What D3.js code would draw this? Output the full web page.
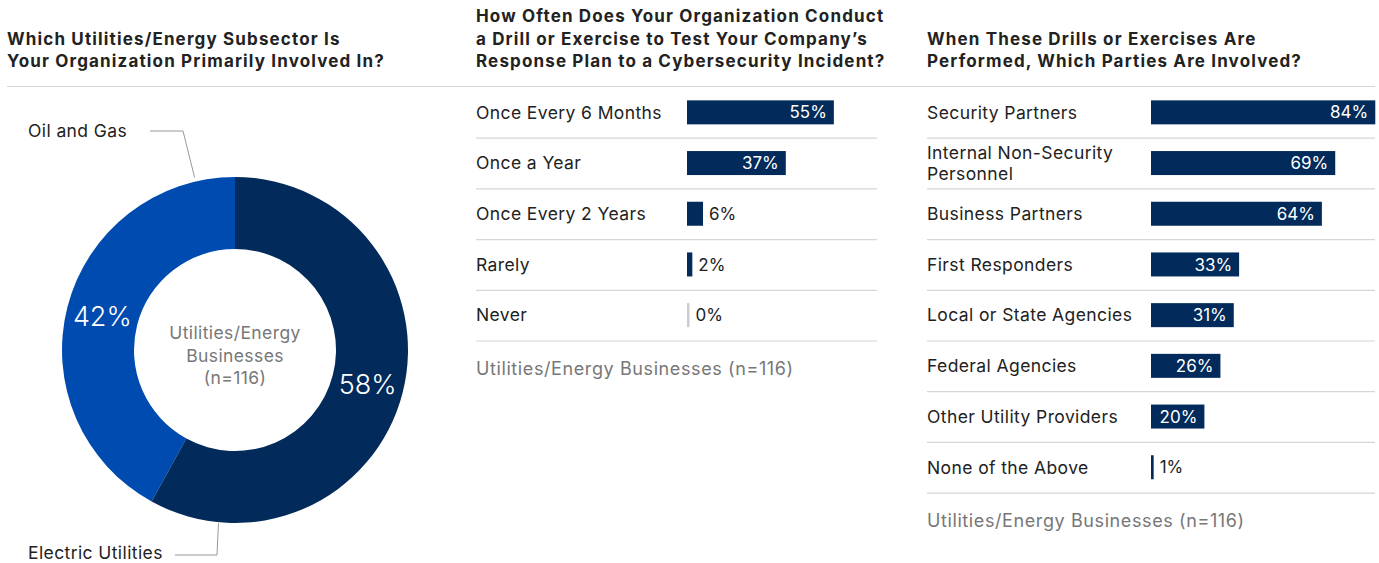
<!DOCTYPE html>
<html><head><meta charset="utf-8">
<script src="https://cdn.jsdelivr.net/npm/d3@7"></script>
<style>
body{margin:0;background:#fff;}
svg{display:block;font-family:Inter,"Liberation Sans",Arial,sans-serif;}
</style></head><body>
<svg id="c" width="1379" height="563"></svg>
<script>
// ---- data ----
const subsectorLabels = ["Oil and Gas", "Electric Utilities"];
const subsectorValues = [42, 58];
const frequencyCategories = ["Once Every 6 Months", "Once a Year", "Once Every 2 Years", "Rarely", "Never"];
const frequencyValues = [55, 37, 6, 2, 0];
const partiesCategories = ["Security Partners", "Internal Non-Security Personnel", "Business Partners", "First Responders", "Local or State Agencies", "Federal Agencies", "Other Utility Providers", "None of the Above"];
const partiesValues = [84, 69, 64, 33, 31, 26, 20, 1];
const titles = [
  ["Which Utilities/Energy Subsector Is", "Your Organization Primarily Involved In?"],
  ["How Often Does Your Organization Conduct", "a Drill or Exercise to Test Your Company\u2019s", "Response Plan to a Cybersecurity Incident?"],
  ["When These Drills or Exercises Are", "Performed, Which Parties Are Involved?"]
];
const centerLabel = ["Utilities/Energy", "Businesses", "(n=116)"];
const footnote = "Utilities/Energy Businesses (n=116)";

// ---- style ----
const DARK = "#022a5a", BLUE = "#004bb0", TXT = "#222", GREY = "#777", RULE = "#d6d6d6";
const FS = 17.5, LS = 0.4;
const svg = d3.select("#c");
const txt = (sel) => sel.attr("font-size", FS).attr("letter-spacing", LS);

// titles
const titleX = [7, 476, 927];
titles.forEach((lines, i) => {
  const n = lines.length;
  lines.forEach((t, j) => {
    svg.append("text").attr("x", titleX[i]).attr("y", 67 - (n - 1 - j) * 22.5)
      .attr("font-size", 17).attr("font-weight", 700).attr("letter-spacing", 1.15)
      .attr("fill", TXT).text(t);
  });
});
svg.append("line").attr("x1", 7).attr("x2", 1375).attr("y1", 86.5).attr("y2", 86.5)
  .attr("stroke", RULE).attr("stroke-width", 1.2);

// ---- donut ----
const cx = 235, cy = 350, rOuter = 173, rInner = 101;
const pie = d3.pie().sort(null).value(d => d)
  .startAngle(0).endAngle(-2 * Math.PI);
const arcs = pie(subsectorValues);
const arc = d3.arc().innerRadius(rInner).outerRadius(rOuter);
const g = svg.append("g").attr("transform", `translate(${cx},${cy})`);
const colors = [BLUE, DARK];
g.selectAll("path").data(arcs).join("path").attr("d", arc).attr("fill", (d, i) => colors[i]);
g.selectAll("text.pct").data(arcs).join("text").attr("class", "pct")
  .attr("transform", d => `translate(${arc.centroid(d)})`)
  .attr("text-anchor", "middle").attr("dy", "0.36em")
  .attr("font-size", 27).attr("font-weight", 300).attr("fill", "#fff").text(d => d.data + "%");
centerLabel.forEach((t, i) => {
  g.append("text").attr("x", 0).attr("y", -17 + i * 22.5).attr("dy", "0.36em")
    .attr("text-anchor", "middle").call(txt).attr("fill", GREY).text(t);
});
// leader lines
const pt = (ang, r) => [r * Math.sin(ang), -r * Math.cos(ang)];
const oilEnd = pt(-0.23, rOuter + 4), elecEnd = pt(Math.PI + 0.095, rOuter + 1);
g.append("path").attr("fill", "none").attr("stroke", "#999").attr("stroke-width", 1)
  .attr("d", d3.line()([[150 - cx, 131 - cy], [183 - cx, 131 - cy], oilEnd]));
g.append("path").attr("fill", "none").attr("stroke", "#999").attr("stroke-width", 1)
  .attr("d", d3.line()([[175 - cx, 555 - cy], [217 - cx, 555 - cy], elecEnd]));
svg.append("text").attr("x", 28).attr("y", 131).attr("dy", "0.36em").call(txt).attr("fill", TXT).text(subsectorLabels[0]);
svg.append("text").attr("x", 28).attr("y", 553).attr("dy", "0.36em").call(txt).attr("fill", TXT).text(subsectorLabels[1]);

// ---- bar panels ----
function barPanel(cats, vals, x0, barX, ruleX2, y0) {
  const x = d3.scaleLinear().domain([0, 100]).range([barX, barX + 267]);
  const y = d3.scaleBand().domain(cats).range([y0, y0 + cats.length * 50.7]).paddingInner(0);
  const p = svg.append("g");
  cats.forEach((c, i) => {
    const yc = y(c) + y.bandwidth() / 2;
    const v = vals[i];
    const words = c === "Internal Non-Security Personnel" ? ["Internal Non-Security", "Personnel"] : [c];
    words.forEach((w, k) => {
      p.append("text").attr("x", x0).attr("y", yc + (k - (words.length - 1) / 2) * 21).attr("dy", "0.36em")
        .call(txt).attr("fill", TXT).text(w);
    });
    if (v > 0) {
      p.append("rect").attr("x", x(0)).attr("y", yc - 12).attr("width", x(v) - x(0)).attr("height", 24).attr("fill", DARK);
    } else {
      p.append("rect").attr("x", x(0)).attr("y", yc - 12).attr("width", 2.5).attr("height", 24).attr("fill", "#ccc");
    }
    const inside = v >= 10;
    p.append("text").attr("x", inside ? x(v) - 7 : Math.max(x(v), x(0) + 2.5) + 6)
      .attr("y", yc).attr("dy", "0.36em").attr("text-anchor", inside ? "end" : "start")
      .attr("font-size", 17).attr("fill", inside ? "#fff" : TXT).text(v + "%");
    p.append("line").attr("x1", x0).attr("x2", ruleX2)
      .attr("y1", y(c) + y.bandwidth() + 0.5).attr("y2", y(c) + y.bandwidth() + 0.5)
      .attr("stroke", RULE).attr("stroke-width", 1.2);
  });
  svg.append("text").attr("x", x0).attr("y", y0 + cats.length * 50.7 + 28).attr("dy", "0.36em")
    .attr("font-size", 18).attr("letter-spacing", 0.6).attr("fill", GREY).text(footnote);
}
barPanel(frequencyCategories, frequencyValues, 476, 687, 877, 87);
barPanel(partiesCategories, partiesValues, 927, 1151, 1375, 87);
</script></body></html>
